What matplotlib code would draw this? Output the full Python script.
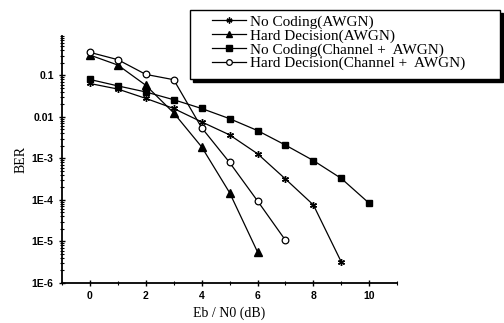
import numpy as np
import matplotlib
matplotlib.use('Agg')
import matplotlib.pyplot as plt
import matplotlib.patches as patches
from matplotlib.ticker import LogLocator, FixedLocator, NullFormatter

# Eb/N0 (dB) and BER
ebn0_nc_awgn = [0, 1, 2, 3, 4, 5, 6, 7, 8, 9]
ber_nc_awgn = [0.064, 0.047, 0.028, 0.016, 0.0076, 0.0037, 0.0013, 3.2e-4, 7.6e-5, 3.2e-6]

ebn0_hd_awgn = [0, 1, 2, 3, 4, 5, 6]
ber_hd_awgn = [0.31, 0.178, 0.058, 0.0125, 0.0019, 1.5e-4, 5.6e-6]

ebn0_nc_ch = [0, 1, 2, 3, 4, 5, 6, 7, 8, 9, 10]
ber_nc_ch = [0.08, 0.056, 0.04, 0.026, 0.016, 0.0091, 0.0047, 0.0021, 8.9e-4, 3.3e-4, 8.3e-5]

ebn0_hd_ch = [0, 1, 2, 3, 4, 5, 6, 7]
ber_hd_ch = [0.36, 0.24, 0.106, 0.079, 0.0055, 8e-4, 9.5e-5, 1.07e-5]

labels = ['No Coding(AWGN)', 'Hard Decision(AWGN)',
          'No Coding(Channel +  AWGN)', 'Hard Decision(Channel +  AWGN)']
ytick_vals = [1e-6, 1e-5, 1e-4, 1e-3, 0.01, 0.1]
ytick_labels = ['1E-6', '1E-5', '1E-4', '1E-3', '0.01', '0.1']

serif = 'Liberation Serif'

fig = plt.figure(figsize=(5.04, 3.23), dpi=100)
ax = fig.add_axes([0.123, 0.124, 0.665, 0.765])

kw = dict(color='black', lw=0.9)
ax.plot(ebn0_nc_awgn, ber_nc_awgn, marker=(6, 2, 0), ms=5, mew=1.0, label=labels[0], **kw)
ax.plot(ebn0_hd_awgn, ber_hd_awgn, marker='^', ms=5.5, label=labels[1], **kw)
ax.plot(ebn0_nc_ch, ber_nc_ch, marker='s', ms=4.5, label=labels[2], **kw)
ax.plot(ebn0_hd_ch, ber_hd_ch, marker='o', ms=4.8, mfc='white', mew=0.9, label=labels[3], **kw)

ax.set_yscale('log')
ax.set_xlim(-1, 11)
ax.set_ylim(1e-6, 0.9)
ax.spines['top'].set_visible(False)
ax.spines['right'].set_visible(False)
ax.spines['left'].set_linewidth(1.3)
ax.spines['bottom'].set_linewidth(1.3)

ax.xaxis.set_major_locator(FixedLocator([0, 2, 4, 6, 8, 10]))
ax.xaxis.set_minor_locator(FixedLocator([-1, 1, 3, 5, 7, 9, 11]))
ax.yaxis.set_major_locator(FixedLocator(ytick_vals))
ax.set_yticklabels(ytick_labels)
ax.yaxis.set_minor_locator(LogLocator(base=10, subs=np.arange(2, 10)))
ax.yaxis.set_minor_formatter(NullFormatter())
ax.tick_params(which='major', direction='inout', length=5, width=1.0,
               labelsize=7.5)
ax.tick_params(which='minor', direction='inout', length=3, width=0.8)
for t in ax.get_xticklabels() + ax.get_yticklabels():
    t.set_fontweight('bold')
    t.set_family('Liberation Sans')

ax.set_xlabel('Eb / N0 (dB)', family=serif, fontsize=10)
ax.set_ylabel('BER', family=serif, fontsize=10, labelpad=3)

# legend box with a solid drop shadow, drawn in figure coords
W, H = 504.0, 323.0
bx, by, bw, bh = 190 / W, 1 - 79 / H, 310 / W, 69 / H
fig.patches.append(patches.Rectangle((bx + 3 / W, by - 3 / H), bw, bh,
                                     transform=fig.transFigure, fc='black',
                                     ec='black', zorder=1))
fig.patches.append(patches.Rectangle((bx, by), bw, bh, transform=fig.transFigure,
                                     fc='white', ec='black', lw=1.0, zorder=2))

leg = fig.legend(loc='upper left', bbox_to_anchor=(212 / W, 1 - 15 / H),
                 frameon=False, prop={'family': serif, 'size': 11},
                 handlelength=2.2, handletextpad=0.3, labelspacing=0.0,
                 borderpad=0, borderaxespad=0, markerscale=0.85)
leg.set_zorder(3)

fig.savefig('out.png', dpi=100)
